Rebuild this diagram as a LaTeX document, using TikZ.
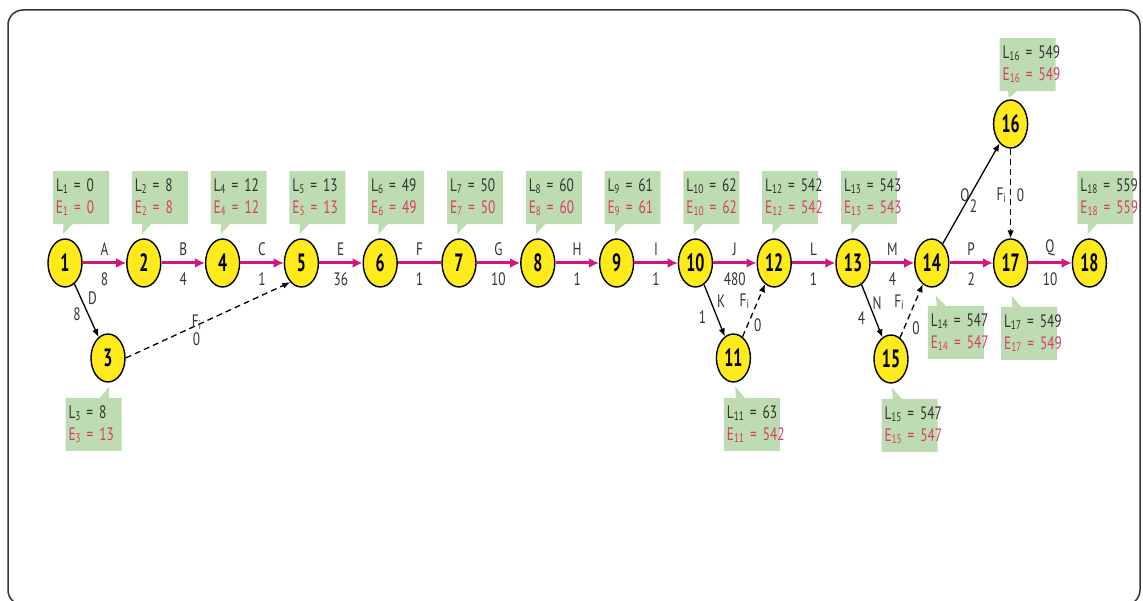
\documentclass[tikz,border=0pt]{standalone}
\usepackage{fontspec}
\setmainfont{PT Sans}[FakeStretch=0.74]
\newfontfamily\numfont{PT Sans}[FakeStretch=0.64]
\usepackage{tikz}
\usetikzlibrary{calc, positioning, shapes.geometric, shapes.callouts, arrows.meta}

\definecolor{critpink}{HTML}{D4147F}
\definecolor{evtyellow}{HTML}{FFEA1C}
\definecolor{boxgreen}{HTML}{BEDCB1}
\definecolor{early}{HTML}{D63C6A}
\definecolor{ink}{HTML}{333333}

% small lowered index
\newcommand{\sub}[1]{\raisebox{-2pt}{\fontsize{12.5}{12.5}\selectfont#1}}
% late / early times of an event
\newcommand{\LE}[3]{L\sub{#1}~=~#2\\\textcolor{early}{E\sub{#1}~=~#3}}
\newcommand{\Fi}{F\sub{i}}

\begin{document}
\begin{tikzpicture}[x=1pt, y=1pt, node distance=78.8pt,
	main/.style = {draw, ellipse, line width=1.4pt, fill=evtyellow, minimum width=34pt, minimum height=48pt, inner sep=0pt, font=\numfont\bfseries\fontsize{25}{25}\selectfont},
	info/.style = {rectangle callout, fill=boxgreen, minimum width=56pt, minimum height=53pt, text width=50pt, inner xsep=3pt, inner ysep=0pt, align=left, callout pointer width=9pt, text=ink, font=\fontsize{18}{22}\selectfont},
	critical/.style = {-{Latex[length=10pt,width=10pt]}, critpink, line width=3pt},
	act/.style = {-{Latex[length=8pt,width=6.5pt]}, line width=1.3pt},
	dummy/.style = {act, dash pattern=on 6pt off 4pt},
	lbl/.style = {text=ink, font=\fontsize{18}{18}\selectfont, inner sep=2pt}]
	\useasboundingbox (0,0) rectangle (1143,601);
	\draw[ink, line width=1.5pt, rounded corners=15pt] (8,-4) rectangle (1140,591);

	% events on the critical path
	\node[main] (1) at (65,338) {1};
	\node[main] (2) [right of=1] {2};
	\node[main] (4) [right of=2] {4};
	\node[main] (5) [right of=4] {5};
	\node[main] (6) [right of=5] {6};
	\node[main] (7) [right of=6] {7};
	\node[main] (8) [right of=7] {8};
	\node[main] (9) [right of=8] {9};
	\node[main] (10) [right of=9] {10};
	\node[main] (12) [right of=10] {12};
	\node[main] (13) [right of=12] {13};
	\node[main] (14) [right of=13] {14};
	\node[main] (17) [right of=14] {17};
	\node[main] (18) [right of=17] {18};
	% events off the path
	\node[main] (3) at ($(1)+(43,-95)$) {3};
	\node[main] (11) at ($(10)+(38,-95)$) {11};
	\node[main] (15) at ($(13)+(38,-96)$) {15};
	\node[main] (16) at ($(17)+(0,139)$) {16};

	% time boxes
	\node[info, above=14pt of 1, xshift=16pt, callout absolute pointer={($(1.north)+(-2,4)$)}] (t1) {\LE{1}{0}{0}};
	\node[info, above=14pt of 2, xshift=16pt, callout absolute pointer={($(2.north)+(-2,4)$)}] (t2) {\LE{2}{8}{8}};
	\node[info, above=14pt of 4, xshift=16pt, callout absolute pointer={($(4.north)+(-2,4)$)}] (t4) {\LE{4}{12}{12}};
	\node[info, above=14pt of 5, xshift=16pt, callout absolute pointer={($(5.north)+(-2,4)$)}] (t5) {\LE{5}{13}{13}};
	\node[info, above=14pt of 6, xshift=16pt, callout absolute pointer={($(6.north)+(-2,4)$)}] (t6) {\LE{6}{49}{49}};
	\node[info, above=14pt of 7, xshift=16pt, callout absolute pointer={($(7.north)+(-2,4)$)}] (t7) {\LE{7}{50}{50}};
	\node[info, above=14pt of 8, xshift=16pt, callout absolute pointer={($(8.north)+(-2,4)$)}] (t8) {\LE{8}{60}{60}};
	\node[info, above=14pt of 9, xshift=16pt, callout absolute pointer={($(9.north)+(-2,4)$)}] (t9) {\LE{9}{61}{61}};
	\node[info, above=14pt of 10, xshift=16pt, callout absolute pointer={($(10.north)+(-2,4)$)}] (t10) {\LE{10}{62}{62}};
	\node[info, above=14pt of 12, xshift=16pt, callout absolute pointer={($(12.north)+(-2,4)$)}] (t12) {\LE{12}{542}{542}};
	\node[info, above=14pt of 13, xshift=16pt, callout absolute pointer={($(13.north)+(-2,4)$)}] (t13) {\LE{13}{543}{543}};
	\node[info, above=14pt of 18, xshift=16pt, callout absolute pointer={($(18.north)+(-2,4)$)}] (t18) {\LE{18}{559}{559}};
	\node[info, above=8pt of 16, xshift=17pt, callout absolute pointer={($(16.north)+(-2,1)$)}] (t16) {\LE{16}{549}{549}};
	\node[info, below=15pt of 3, xshift=-14.5pt, callout absolute pointer={($(3.south)+(1,-4)$)}] (t3) {\LE{3}{8}{13}};
	\node[info, below=15pt of 11, xshift=18.5pt, callout absolute pointer={($(11.south)+(2,-4)$)}] (t11) {\LE{11}{63}{542}};
	\node[info, below=15pt of 15, xshift=18.5pt, callout absolute pointer={($(15.south)+(1,-4)$)}] (t15) {\LE{15}{547}{547}};
	\node[info, below=18pt of 14, xshift=24pt, callout absolute pointer={($(14.south)+(4,-8)$)}] (t14) {\LE{14}{547}{547}};
	\node[info, below=19pt of 17, xshift=18.5pt, callout absolute pointer={($(17.south)+(1,-8)$)}] (t17) {\LE{17}{549}{549}};

	% critical activities
	\draw[critical] (1) to node[lbl, above=4pt] {A} node[lbl, below=6pt] {8} (2);
	\draw[critical] (2) to node[lbl, above=4pt] {B} node[lbl, below=6pt] {4} (4);
	\draw[critical] (4) to node[lbl, above=4pt] {C} node[lbl, below=6pt] {1} (5);
	\draw[critical] (5) to node[lbl, above=4pt] {E} node[lbl, below=6pt] {36} (6);
	\draw[critical, -] (6) to node[lbl, above=4pt] {F} node[lbl, below=6pt] {1} (7);
	\draw[critical] (7) to node[lbl, above=4pt] {G} node[lbl, below=6pt] {10} (8);
	\draw[critical] (8) to node[lbl, above=4pt] {H} node[lbl, below=6pt] {1} (9);
	\draw[critical] (9) to node[lbl, above=4pt] {I} node[lbl, below=6pt] {1} (10);
	\draw[critical] (10) to node[lbl, above=4pt] {J} node[lbl, below=6pt] {480} (12);
	\draw[critical] (12) to node[lbl, above=4pt] {L} node[lbl, below=6pt] {1} (13);
	\draw[critical] (13) to node[lbl, above=4pt] {M} node[lbl, below=6pt] {4} (14);
	\draw[critical] (14) to node[lbl, above=4pt] {P} node[lbl, below=6pt] {2} (17);
	\draw[critical] (17) to node[lbl, above=4pt] {Q} node[lbl, below=6pt] {10} (18);

	% other activities
	\draw[act] (1) to node[lbl, pos=.27, right=4.5pt] {D} node[lbl, pos=.57, left=5pt] {8} (3);
	\draw[act] (10) to node[lbl, pos=.33, right=3.5pt] {K} node[lbl, pos=.62, left=8pt] {1} (11);
	\draw[act] (13) to node[lbl, pos=.35, right=1pt] {N} node[lbl, pos=.63, left=7pt] {4} (15);
	\draw[act] (14) to node[lbl, pos=.48, left=-2pt] {O} node[lbl, pos=.37, right=3.5pt] {2} (16);

	% dummy activities
	\draw[dummy] (3.east) to node[lbl, pos=.43, yshift=3pt] {\Fi} node[lbl, pos=.43, yshift=-14pt] {0} (5.240);
	\draw[dummy] (11) to node[lbl, pos=.67, left=6pt] {\Fi} node[lbl, pos=.22, right=4pt] {0} (12);
	\draw[dummy] (15) to node[lbl, pos=.67, left=9pt] {\Fi} node[lbl, pos=.18, right=5.5pt] {0} (14);
	\draw[dummy] (16) to node[lbl, pos=.52, left=2pt] {\Fi} node[lbl, pos=.52, right=3.5pt] {0} (17);
\end{tikzpicture}
\end{document}
